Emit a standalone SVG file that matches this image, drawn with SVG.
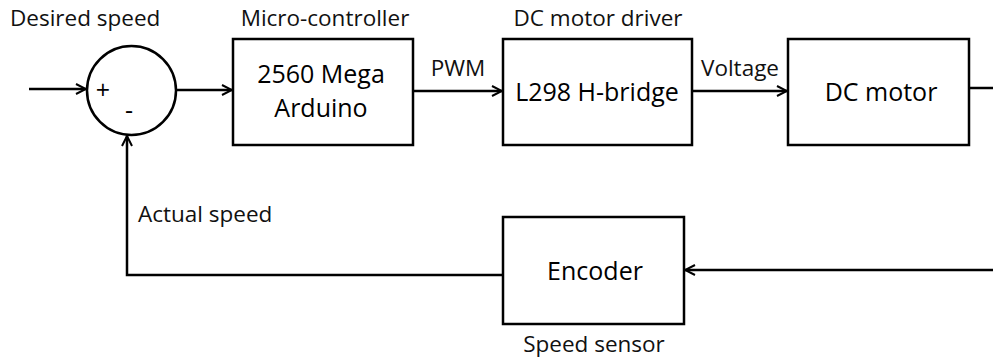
<svg xmlns="http://www.w3.org/2000/svg" width="993" height="358" viewBox="0 0 993 358">
<defs>
<marker id="arr" viewBox="0 0 12 12" refX="11" refY="6" markerWidth="12" markerHeight="12" markerUnits="userSpaceOnUse" orient="auto">
<path d="M1,1 L11,6 L1,11" fill="none" stroke="#000" stroke-width="2"/>
</marker>
<style>
.b{fill:#fff;stroke:#000;stroke-width:2.5}
.c{fill:none;stroke:#000;stroke-width:2.5}
.t{font-family:"Open Sans","Liberation Sans",Arial,sans-serif;font-size:22.5px;fill:#111}
.bt{font-family:"Open Sans","Liberation Sans",Arial,sans-serif;font-size:25px;fill:#000;text-anchor:middle}
.s{font-family:"Open Sans","Liberation Sans",Arial,sans-serif;font-size:25px;fill:#000;text-anchor:middle}
</style>
</defs>
<g id="connectors">
<line class="c" x1="29" y1="89" x2="86" y2="89" marker-end="url(#arr)"/>
<line class="c" x1="176" y1="90" x2="232" y2="90" marker-end="url(#arr)"/>
<line class="c" x1="413" y1="91" x2="502" y2="91" marker-end="url(#arr)"/>
<line class="c" x1="692" y1="91" x2="787" y2="91" marker-end="url(#arr)"/>
<line class="c" x1="969" y1="88" x2="993" y2="88"/>
<line class="c" x1="993" y1="270" x2="685" y2="270" marker-end="url(#arr)"/>
<polyline class="c" points="503,275 127,275 127,136" marker-end="url(#arr)"/>
</g>
<g id="sum">
<circle class="b" cx="131.5" cy="90.5" r="44.5"/>
<text class="s" x="103" y="99">+</text>
<text class="s" x="129" y="119">-</text>
</g>
<g id="micro">
<rect class="b" x="233" y="39" width="180" height="106"/>
<text class="bt" x="321" y="83">2560 Mega</text>
<text class="bt" x="321" y="117">Arduino</text>
</g>
<g id="driver">
<rect class="b" x="503" y="39" width="189" height="106"/>
<text class="bt" x="597" y="101">L298 H-bridge</text>
</g>
<g id="motor">
<rect class="b" x="788" y="39" width="181" height="106"/>
<text class="bt" x="881" y="101">DC motor</text>
</g>
<g id="encoder">
<rect class="b" x="503" y="217" width="181" height="107"/>
<text class="bt" x="595" y="280">Encoder</text>
</g>
<g id="labels">
<text class="t" x="10" y="26">Desired speed</text>
<text class="t" x="325" y="26" text-anchor="middle">Micro-controller</text>
<text class="t" x="458" y="76" text-anchor="middle">PWM</text>
<text class="t" x="598" y="26" text-anchor="middle">DC motor driver</text>
<text class="t" x="740" y="76" text-anchor="middle">Voltage</text>
<text class="t" x="138" y="222">Actual speed</text>
<text class="t" x="594" y="352" text-anchor="middle">Speed sensor</text>
</g>
</svg>
